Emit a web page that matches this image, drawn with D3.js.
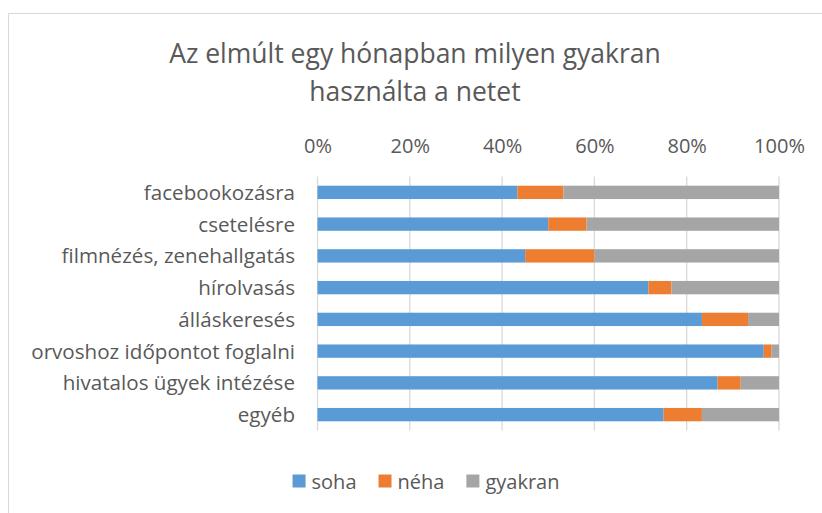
<!DOCTYPE html>
<html>
  <head>
    <meta charset="utf-8">
    <script src="https://d3js.org/d3.v7.min.js"></script>
    <style>
      body { margin: 0; background: #fff; }
      text { font-family: "Open Sans", sans-serif; fill: #595959; }
    </style>
  </head>
  <body>
    <div id="chart"></div>
    <script type="text/javascript">

      // data (percent of respondents)
      var categories = ["facebookozásra", "csetelésre", "filmnézés, zenehallgatás", "hírolvasás",
                        "álláskeresés", "orvoshoz időpontot foglalni", "hivatalos ügyek intézése", "egyéb"];
      var soha    = [43.3, 50.0, 45.0, 71.7, 83.3, 96.7, 86.7, 75.0];
      var neha    = [10.0,  8.3, 15.0,  5.0, 10.0,  1.7,  5.0,  8.3];
      var gyakran = [46.7, 41.7, 40.0, 23.3,  6.7,  1.6,  8.3, 16.7];
      var seriesNames = ["soha", "néha", "gyakran"];
      var tickValues = [0, 20, 40, 60, 80, 100];
      var titleLines = ["Az elmúlt egy hónapban milyen gyakran", "használta a netet"];

      var colors = ["#5B9BD5", "#ED7D31", "#A5A5A5"];

      var W = 822, H = 513;
      var svg = d3.select("#chart").append("svg")
          .attr("width", W)
          .attr("height", H);

      // outer chart border
      svg.append("rect")
        .attr("x", 8.5).attr("y", 13.5)
        .attr("width", W).attr("height", H)
        .attr("fill", "none")
        .attr("stroke", "#D9D9D9")
        .attr("stroke-width", 1);

      // title
      svg.append("g").selectAll("text")
        .data(titleLines)
        .enter().append("text")
          .attr("x", 415)
          .attr("y", function(d, i) { return 63 + i * 38; })
          .attr("text-anchor", "middle")
          .attr("font-size", 26.5)
          .text(function(d) { return d; });

      var x = d3.scaleLinear()
          .domain([0, 100])
          .range([317.5, 779]);

      var y = d3.scaleBand()
          .domain(categories)
          .range([176.5, 430.5])
          .paddingInner(0.58)
          .paddingOuter(0.29);

      // gridlines
      svg.append("g").selectAll("line")
        .data(tickValues)
        .enter().append("line")
          .attr("x1", function(d) { return x(d); })
          .attr("x2", function(d) { return x(d); })
          .attr("y1", 176.5)
          .attr("y2", 430.5)
          .attr("stroke", "#D9D9D9")
          .attr("stroke-width", 1.3);

      // top axis labels
      var xAxis = svg.append("g")
        .attr("transform", "translate(0,146)")
        .call(d3.axisTop(x).tickValues(tickValues).tickSize(0).tickPadding(0)
              .tickFormat(function(d) { return d + "%"; }));
      xAxis.select(".domain").remove();
      xAxis.selectAll("text")
        .attr("font-size", 20)
        .attr("font-family", "Open Sans, sans-serif")
        .attr("fill", "#595959")
        .attr("dy", "0.34em");

      // category labels
      var yAxis = svg.append("g")
        .attr("transform", "translate(295,0)")
        .call(d3.axisLeft(y).tickSize(0).tickPadding(0));
      yAxis.select(".domain").remove();
      yAxis.selectAll("text")
        .attr("font-size", 20.6)
        .attr("font-family", "Open Sans, sans-serif")
        .attr("fill", "#595959")
        .attr("dy", "0.36em");

      // stacked bars
      var rows = categories.map(function(c, i) {
        return {cat: c, soha: soha[i], "néha": neha[i], gyakran: gyakran[i]};
      });
      var stacked = d3.stack().keys(seriesNames)(rows);

      svg.append("g").selectAll("g")
        .data(stacked)
        .enter().append("g")
          .attr("fill", function(d, i) { return colors[i]; })
          .selectAll("rect")
          .data(function(d) { return d; })
          .enter().append("rect")
            .attr("x", function(d) { return x(d[0]); })
            .attr("y", function(d) { return y(d.data.cat); })
            .attr("width", function(d) { return x(d[1]) - x(d[0]); })
            .attr("height", y.bandwidth());

      // legend
      var legend = svg.append("g");
      var items = legend.selectAll("g")
        .data(seriesNames)
        .enter().append("g");
      items.append("rect")
        .attr("width", 13).attr("height", 13)
        .attr("y", 474.5)
        .attr("fill", function(d, i) { return colors[i]; });
      items.append("text")
        .attr("x", 19)
        .attr("y", 488.5)
        .attr("font-size", 20)
        .text(function(d) { return d; });

      var pos = 0, offsets = [];
      items.each(function() {
        offsets.push(pos);
        pos += this.getBBox().width + 22;
      });
      var total = pos - 22;
      var start = 426 - total / 2;
      items.attr("transform", function(d, i) { return "translate(" + (start + offsets[i]) + ",0)"; });

    </script>
  </body>
</html>
